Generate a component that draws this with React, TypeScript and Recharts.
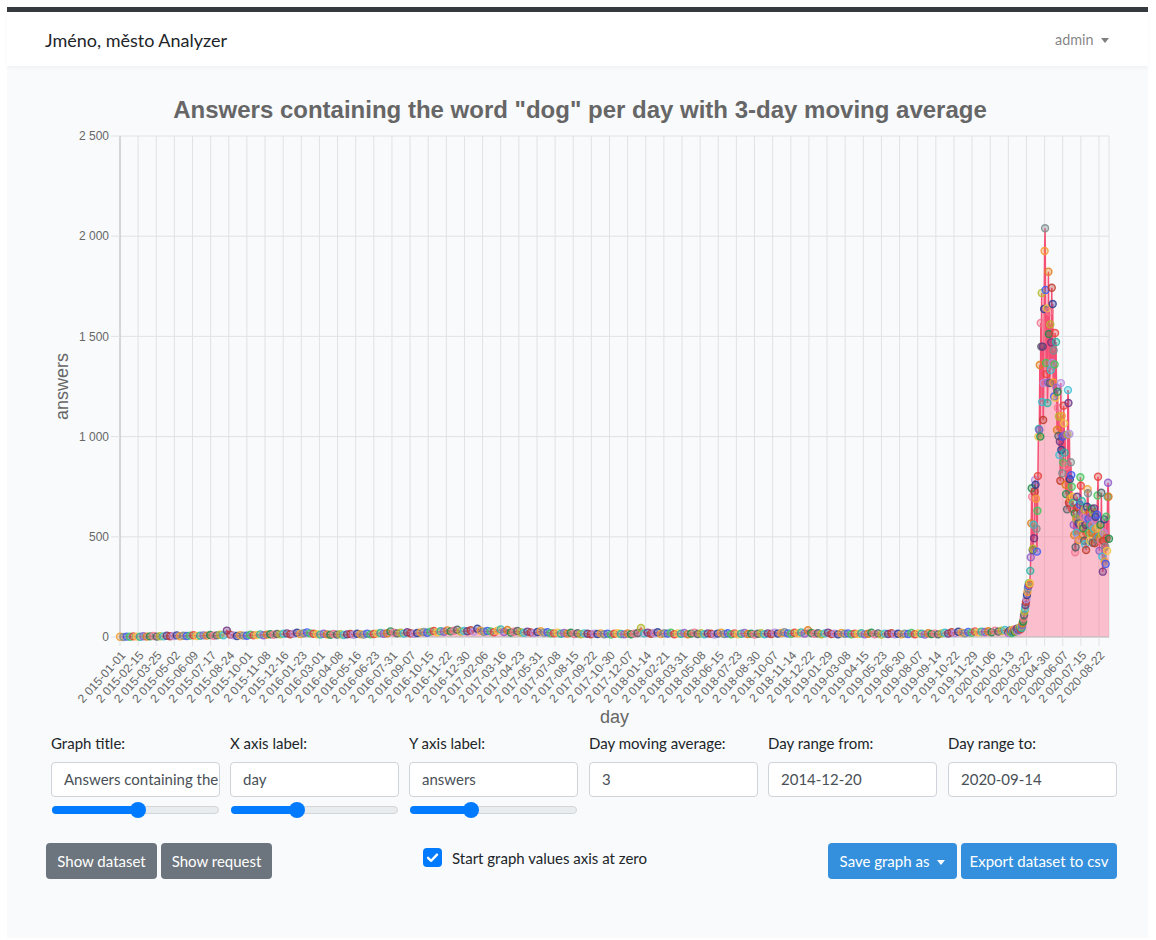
import React from "react";
import { ComposedChart, Area, XAxis, YAxis, CartesianGrid } from "recharts";

// labels under the x axis, one every 38 days (as the page prints them)
const xTickLabels = [
  "2 015-01-01", "2 015-02-15", "2 015-03-25", "2 015-05-02", "2 015-06-09", "2 015-07-17", "2 015-08-24", "2 015-10-01", "2 015-11-08", "2 015-12-16",
  "2 016-01-23", "2 016-03-01", "2 016-04-08", "2 016-05-16", "2 016-06-23", "2 016-07-31", "2 016-09-07", "2 016-10-15", "2 016-11-22", "2 016-12-30",
  "2 017-02-06", "2 017-03-16", "2 017-04-23", "2 017-05-31", "2 017-07-08", "2 017-08-15", "2 017-09-22", "2 017-10-30", "2 017-12-07",
  "2 018-01-14", "2 018-02-21", "2 018-03-31", "2 018-05-08", "2 018-06-15", "2 018-07-23", "2 018-08-30", "2 018-10-07", "2 018-11-14", "2 018-12-22",
  "2 019-01-29", "2 019-03-08", "2 019-04-15", "2 019-05-23", "2 019-06-30", "2 019-08-07", "2 019-09-14", "2 019-10-22", "2 019-11-29",
  "2 020-01-06", "2 020-02-13", "2 020-03-22", "2 020-04-30", "2 020-06-07", "2 020-07-15", "2 020-08-22",
];
const TICK_STEP = 38;
const LAST_DAY = 2073;

const yTicks = [0, 500, 1000, 1500, 2000, 2500];

// weekly readings of the quiet years (one value per 7 days, from day 0)
const weekly2015 = [
  1, 0, 2, 1, 3, 2, 1, 4, 2, 3, 5, 2, 4,
  3, 6, 4, 5, 8, 4, 6, 5, 7, 9, 5, 6, 8,
  7, 10, 6, 8, 11, 9, 32, 12, 8, 5, 9, 7, 6,
  11, 8, 10, 13, 9, 12, 14, 11, 15, 13, 16, 18, 14,
];
const weekly2016 = [
  17, 21, 15, 19, 23, 18, 16, 14, 12, 16, 13, 11, 15,
  12, 14, 10, 13, 15, 11, 16, 14, 12, 17, 13, 15, 18,
  20, 16, 19, 28, 22, 18, 21, 17, 24, 19, 16, 20, 23,
  25, 21, 27, 30, 24, 29, 26, 33, 28, 31, 36, 27, 30,
];
const weekly2017 = [
  29, 34, 27, 41, 31, 26, 30, 28, 24, 32, 38, 25, 35,
  22, 26, 30, 24, 21, 27, 23, 20, 25, 29, 22, 24, 19,
  18, 22, 16, 20, 17, 21, 15, 19, 14, 18, 16, 13, 17,
  15, 18, 14, 17, 12, 16, 19, 15, 13, 18, 14, 17, 20,
];
const weekly2018 = [
  45, 18, 22, 16, 20, 24, 15, 19, 17, 21, 14, 18, 16,
  20, 13, 17, 22, 15, 19, 14, 18, 16, 12, 17, 21, 15,
  19, 14, 18, 13, 16, 20, 15, 17, 12, 16, 19, 14, 18,
  15, 22, 17, 20, 24, 18, 16, 21, 19, 23, 17, 34, 20,
];
const weekly2019 = [
  16, 19, 14, 18, 22, 15, 17, 13, 20, 16, 18, 14, 17,
  15, 19, 13, 16, 21, 14, 18, 12, 17, 15, 19, 14, 16,
  13, 17, 15, 20, 14, 18, 16, 12, 19, 15, 17, 13, 18,
  21, 17, 24, 19, 26, 22, 18, 25, 21, 28, 23, 27, 25,
];
const weekly2020 = [29, 24, 32, 27, 31, 35];

// daily values from 2020-02-13 (day 1862) to the end
const DAILY_START = 1862;
const daily2020 = [
  22, 28, 19, 31, 25, 34, 27, 20, 30, 36,
  24, 29, 33, 26, 38, 30, 27, 35, 41, 32,
  29, 37, 44, 36, 40, 48, 39, 52, 45, 58,
  70, 77, 95, 110, 128, 143, 160, 176, 190, 210,
  225, 243, 255, 268, 262, 268, 330, 398, 567, 742,
  700, 434, 440, 560, 493, 725, 783, 760, 690, 540,
  426, 630, 803, 1000, 1038, 1033, 1357, 1000, 1567, 1449,
  1717, 1173, 1449, 1083, 1267, 1637, 1926, 2040, 1732, 1367,
  1312, 1640, 1168, 1270, 1823, 1512, 1623, 1267, 1560, 1332,
  1470, 1743, 1367, 1662, 1270, 1430, 1200, 1360, 1517, 1194,
  1472, 1244, 1033, 1224, 1144, 1003, 1100, 908, 975, 780,
  1267, 933, 1103, 817, 1000, 870, 1154, 1066, 920, 1008,
  760, 713, 853, 637, 1010, 1232, 1168, 670, 1013, 787,
  690, 872, 808, 750, 640, 700, 670, 560, 509, 617,
  423, 448, 590, 520, 700, 647, 490, 567, 484, 600,
  660, 797, 755, 560, 679, 620, 510, 542, 600, 480,
  637, 463, 560, 434, 592, 650, 738, 717, 590, 520,
  620, 480, 560, 600, 520, 640, 559, 470, 620, 540,
  642, 468, 580, 600, 540, 490, 610, 706, 800, 547,
  500, 430, 493, 560, 480, 720, 510, 401, 326, 480,
  520, 587, 376, 450, 364, 600, 493, 430, 700, 770,
  700, 490,
];

const dotColors = [
  "#f39c33", "#7f8c8d", "#3d5af1", "#45c45a", "#e8413b", "#f4c542", "#2bb3a0", "#8e5cc7",
  "#e07b1a", "#1e8c4b", "#f4768f", "#555f66", "#b5b82a", "#3cc0d4", "#6c3483", "#c0392b",
  "#b48ee0", "#2c3e91",
];

const weekly = [...weekly2015, ...weekly2016, ...weekly2017, ...weekly2018, ...weekly2019, ...weekly2020];
const chartData = [
  ...weekly.map((v, i) => ({ day: i * 7, answers: v })),
  ...daily2020.map((v, i) => ({ day: DAILY_START + i, answers: v })),
];

const xTicks = xTickLabels.map((_, i) => i * TICK_STEP);

const fmtSpace = (v: number) =>
  v >= 1000 ? `${Math.floor(v / 1000)} ${String(v % 1000).padStart(3, "0")}` : String(v);

const chartFont = '"Liberation Sans", Arial, Helvetica, sans-serif';
const uiFont = 'Lato, "Noto Sans", sans-serif';

function ColorDot(props: any) {
  const { cx, cy, index } = props;
  if (cx == null || cy == null) return null;
  const c = dotColors[index % dotColors.length];
  return (
    <circle
      key={`dot-${index}`}
      cx={cx}
      cy={cy}
      r={3.5}
      fill={c}
      fillOpacity={0.35}
      stroke={c}
      strokeOpacity={0.85}
      strokeWidth={1.4}
    />
  );
}

const abs = (left: number, top: number, extra: React.CSSProperties = {}): React.CSSProperties => ({
  position: "absolute",
  left,
  top,
  ...extra,
});

const formLabels = ["Graph title:", "X axis label:", "Y axis label:", "Day moving average:", "Day range from:", "Day range to:"];
// the first box only shows the start of the long title
const formValues = ["Answers containing the", "day", "answers", "3", "2014-12-20", "2020-09-14"];
const colLeft = [51, 230, 409, 589, 768, 948];
const sliderThumbs = [138, 297, 471];

function Button({ left, width, bg, children }: { left: number; width: number; bg: string; children: React.ReactNode }) {
  return (
    <div
      style={abs(left, 843, {
        width,
        height: 36,
        lineHeight: "36px",
        background: bg,
        color: "#fff",
        borderRadius: 4,
        fontSize: 15,
        textAlign: "center",
        boxSizing: "border-box",
      })}
    >
      {children}
    </div>
  );
}

export default function App() {
  return (
    <div style={abs(0, 0, { width: 1156, height: 940, background: "#fff", fontFamily: uiFont, color: "#212529" })}>
      {/* page background + navbar */}
      <div style={abs(7, 12, { width: 1141, height: 926, background: "#f8fafc" })} />
      <div style={abs(7, 7, { width: 1141, height: 5, background: "#343a40" })} />
      <div style={abs(7, 12, { width: 1141, height: 54, background: "#fff", boxShadow: "0 2px 4px rgba(0,0,0,0.04)" })} />
      <div style={abs(45, 28, { fontSize: 18, lineHeight: "24px" })}>Jméno, město Analyzer</div>
      <div style={abs(1055, 30, { fontSize: 14.4, lineHeight: "20px", color: "rgba(0,0,0,0.5)" })}>
        admin
        <span
          style={{
            display: "inline-block",
            marginLeft: 7,
            verticalAlign: "2px",
            borderTop: "5px solid rgba(0,0,0,0.5)",
            borderLeft: "4px solid transparent",
            borderRight: "4px solid transparent",
          }}
        />
      </div>

      {/* chart */}
      <div
        style={abs(40, 95, {
          width: 1080,
          textAlign: "center",
          fontFamily: chartFont,
          fontWeight: "bold",
          fontSize: 24,
          lineHeight: "30px",
          color: "#666",
        })}
      >
        Answers containing the word "dog" per day with 3-day moving average
      </div>
      <div style={abs(40, 120)}>
        <ComposedChart width={1080} height={610} data={chartData} margin={{ top: 16, right: 11, bottom: 3, left: 0 }}>
          <CartesianGrid stroke="#e0e2e4" strokeWidth={1} />
          <XAxis
            dataKey="day"
            type="number"
            domain={[0, LAST_DAY]}
            ticks={xTicks}
            interval={0}
            height={90}
            tickFormatter={(v: number) => xTickLabels[Math.round(v / TICK_STEP)] ?? ""}
            angle={-48}
            textAnchor="end"
            tick={{ fontSize: 12, fill: "#666", fontFamily: chartFont }}
            tickSize={9}
            tickMargin={4}
            tickLine={{ stroke: "#e0e2e4" }}
            axisLine={{ stroke: "#bdbebf" }}
            label={{ value: "day", position: "insideBottom", offset: 4, style: { fontSize: 18, fill: "#666", fontFamily: chartFont } }}
          />
          <YAxis
            type="number"
            domain={[0, 2500]}
            ticks={yTicks}
            width={80}
            tickFormatter={fmtSpace}
            tick={{ fontSize: 12, fill: "#666", fontFamily: chartFont }}
            tickSize={9}
            tickMargin={2}
            tickLine={{ stroke: "#e0e2e4" }}
            axisLine={{ stroke: "#bdbebf" }}
            label={{
              value: "answers",
              angle: -90,
              position: "insideLeft",
              offset: 22,
              style: { fontSize: 18, fill: "#666", fontFamily: chartFont, textAnchor: "middle" },
            }}
          />
          <Area
            type="linear"
            dataKey="answers"
            stroke="rgb(245, 80, 115)"
            strokeWidth={1.5}
            fill="rgba(255, 99, 132, 0.4)"
            fillOpacity={1}
            dot={(p: any) => <ColorDot {...p} key={`dot-${p.index}`} />}
            activeDot={false}
            isAnimationActive={false}
          />
        </ComposedChart>
      </div>

      {/* form */}
      {formLabels.map((t, i) => (
        <div key={t} style={abs(colLeft[i], 733, { fontSize: 15, lineHeight: "20px" })}>
          {t}
        </div>
      ))}
      {formValues.map((t, i) => (
        <div
          key={`in-${i}`}
          style={abs(colLeft[i], 762, {
            width: 169,
            height: 35,
            boxSizing: "border-box",
            border: "1px solid #ced4da",
            borderRadius: 4,
            background: "#fff",
            padding: "0 0 0 12px",
            fontSize: 15,
            lineHeight: "33px",
            color: "#495057",
            whiteSpace: "nowrap",
            overflow: "hidden",
          })}
        >
          {t}
        </div>
      ))}
      {sliderThumbs.map((tx, i) => {
        const left = colLeft[i] + 1;
        return (
          <React.Fragment key={`sl-${i}`}>
            <div
              style={abs(left, 806, {
                width: 167,
                height: 8,
                boxSizing: "border-box",
                borderRadius: 4,
                background: "#e9ecef",
                border: "1px solid #d3d6d9",
              })}
            />
            <div style={abs(left, 806, { width: tx - left, height: 8, borderRadius: 4, background: "#007bff" })} />
            <div style={abs(tx - 8, 802, { width: 16, height: 16, borderRadius: 8, background: "#007bff" })} />
          </React.Fragment>
        );
      })}

      <Button left={46} width={111} bg="#6c757d">Show dataset</Button>
      <Button left={161} width={111} bg="#6c757d">Show request</Button>
      <div style={abs(423, 848, { width: 19, height: 19, borderRadius: 4, background: "#007bff" })}>
        <svg width={19} height={19} viewBox="0 0 19 19">
          <path d="M5 9.8 L8.2 12.8 L14 6.6" fill="none" stroke="#fff" strokeWidth={2.4} strokeLinecap="round" strokeLinejoin="round" />
        </svg>
      </div>
      <div style={abs(452, 848, { fontSize: 15, lineHeight: "20px" })}>Start graph values axis at zero</div>
      <Button left={828} width={129} bg="#3490dc">
        Save graph as
        <span
          style={{
            display: "inline-block",
            marginLeft: 8,
            verticalAlign: "2px",
            borderTop: "5px solid #fff",
            borderLeft: "4.5px solid transparent",
            borderRight: "4.5px solid transparent",
          }}
        />
      </Button>
      <Button left={961} width={156} bg="#3490dc">Export dataset to csv</Button>
    </div>
  );
}
